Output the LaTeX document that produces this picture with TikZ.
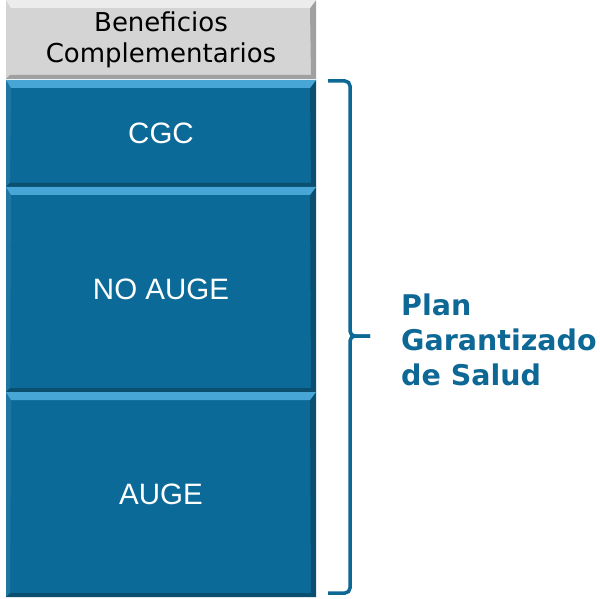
\documentclass[tikz,border=0pt]{standalone}
\usepackage{fontspec}
\setmainfont{DejaVu Sans}
\newfontfamily\labelfont{Liberation Sans}
\usetikzlibrary{positioning}

\definecolor{boxblue}{RGB}{12,106,152}
\definecolor{boxlight}{RGB}{72,166,214}
\definecolor{boxdark}{RGB}{10,78,112}
\definecolor{boxgray}{RGB}{212,212,212}
\definecolor{graylight}{RGB}{236,236,236}
\definecolor{graydark}{RGB}{160,160,160}
\definecolor{planblue}{RGB}{14,104,150}

\begin{document}
\begin{tikzpicture}[
		x=1pt, y=1pt,
		node distance=0pt,
		bevel/.style n args={3}{path picture={
			\fill[#2] (path picture bounding box.north west) -- (path picture bounding box.south west)
				-- ([shift={(4,4)}]path picture bounding box.south west) -- ([shift={(5,-8)}]path picture bounding box.north west) -- cycle;
			\fill[#3] (path picture bounding box.north east) -- (path picture bounding box.south east)
				-- ([shift={(-5,4)}]path picture bounding box.south east) -- ([shift={(-6,-8)}]path picture bounding box.north east) -- cycle;
			\fill[#3] (path picture bounding box.south west) -- (path picture bounding box.south east)
				-- ([shift={(-5,4)}]path picture bounding box.south east) -- ([shift={(4,4)}]path picture bounding box.south west) -- cycle;
			\fill[#1] (path picture bounding box.north west) -- (path picture bounding box.north east)
				-- ([shift={(-6,-8)}]path picture bounding box.north east) -- ([shift={(5,-8)}]path picture bounding box.north west) -- cycle;
		}},
		blueblock/.style={fill=boxblue, minimum width=310pt, inner sep=0pt, outer sep=0pt, text=white,
			font=\labelfont\fontsize{29.5}{34}\selectfont, bevel={boxlight}{boxblue!92!white}{boxdark}},
		grayblock/.style={fill=boxgray, minimum width=310pt, minimum height=79pt, inner sep=0pt, outer sep=0pt, align=center,
			font=\fontsize{26}{31}\selectfont, bevel={graylight}{boxgray}{graydark}},
		brace/.style={draw=planblue, line width=3.5pt, rounded corners=5pt},
	]
		\useasboundingbox (0,0) rectangle (600,-599);

		\node (ben) [grayblock, anchor=north] at (161,0) {Beneficios\\Complementarios};
		\node (cgc) [blueblock, minimum height=107pt, below=1pt of ben] {CGC};
		\node (noauge) [blueblock, minimum height=205pt, below=of cgc] {NO AUGE};
		\node (auge) [blueblock, minimum height=205pt, below=of noauge] {AUGE};

		\coordinate (btop) at ([shift={(12,-1)}]cgc.north east);
		\coordinate (bbot) at ([shift={(12,4)}]auge.south east);
		\coordinate (btip) at (370,-336);

		\draw[brace] (btop) -- ++(22,0) |- (btip);
		\draw[brace] (btip) -- ++(-20,0) |- (bbot);

		\node (pgs) [anchor=west, align=left, inner sep=0pt, text=planblue,
			font=\bfseries\fontsize{28.5}{35}\selectfont] at ([shift={(31,-4)}]btip) {Plan\\Garantizado\\de Salud};
	\end{tikzpicture}
\end{document}
